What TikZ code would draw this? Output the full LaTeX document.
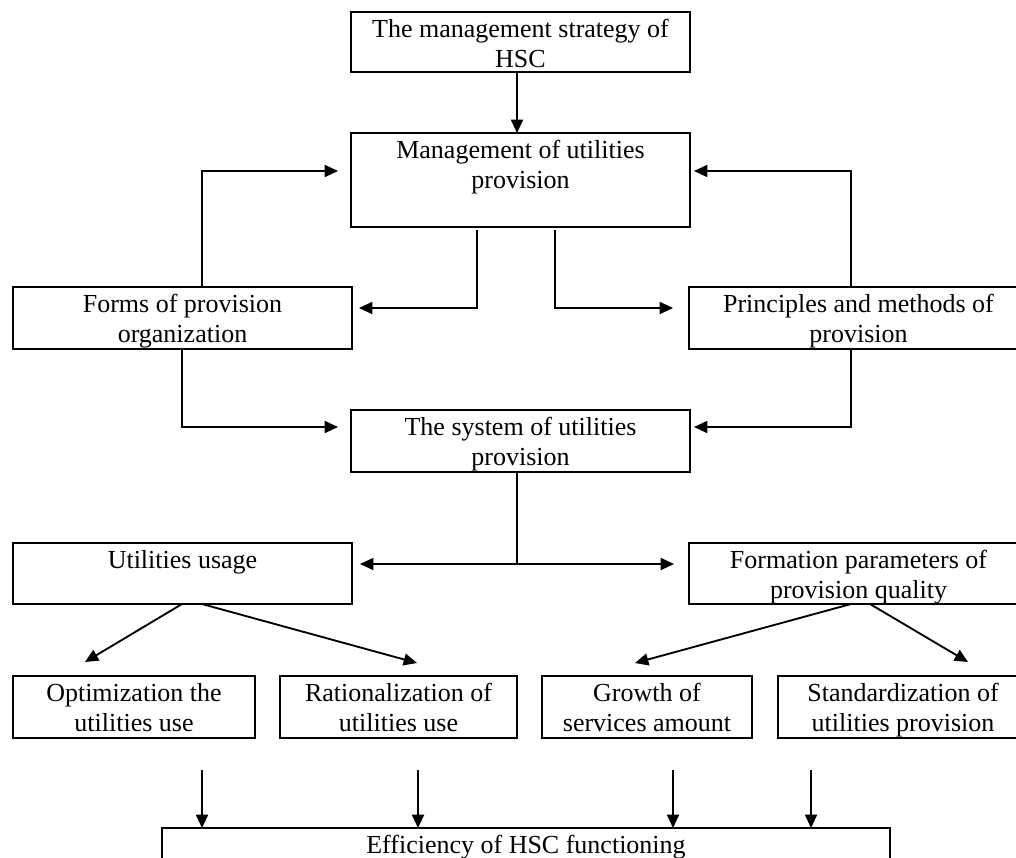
\documentclass[tikz,border=0pt]{standalone}
\usepackage{fontspec}
\setmainfont{Liberation Serif}
\usetikzlibrary{arrows.meta}
\newlength\pxu
\setlength\pxu{0.75pt}
\newcommand\bxt[3]{\parbox[c][#2\pxu][t]{#1\pxu}{\centering\rule{0pt}{19pt}#3\par}}
\begin{document}
\begin{tikzpicture}[x=0.75pt,y=-0.75pt,
  box/.style={draw, rectangle, inner sep=0pt, outer sep=0pt, line width=0.9pt,
    font=\fontsize{19.5pt}{22.5pt}\selectfont},
  arr/.style={line width=1.4pt, -{Triangle[length=10pt,width=9pt]}}]
\path[use as bounding box, clip] (0,0) rectangle (1016,857);
\fill[white] (0,0) rectangle (1016,857);

\node[box] (top) at (520.5,42) {\bxt{339}{60}{The management strategy of\\HSC}};
\node[box] (mgmt) at (520.5,180) {\bxt{339}{94}{Management of utilities\\provision}};
\node[box] (forms) at (182.5,318) {\bxt{339}{62}{Forms of provision\\organization}};
\node[box] (princ) at (858.5,318) {\bxt{339}{62}{Principles and methods of\\provision}};
\node[box] (system) at (520.5,441) {\bxt{339}{62}{The system of utilities\\provision}};
\node[box] (usage) at (182.5,573.5) {\bxt{339}{61}{Utilities usage}};
\node[box] (formation) at (858.5,573.5) {\bxt{339}{61}{Formation parameters of\\provision quality}};
\node[box] (opt) at (134,707) {\bxt{242}{62}{Optimization the\\utilities use}};
\node[box] (rat) at (398.5,707) {\bxt{237}{62}{Rationalization of\\utilities use}};
\node[box] (growth) at (647,707) {\bxt{210}{62}{Growth of\\services amount}};
\node[box] (std) at (903,707) {\bxt{250}{62}{Standardization of\\utilities provision}};
\node[box] (eff) at (526,859) {\bxt{728}{62}{Efficiency of HSC functioning}};

% top -> management
\draw[arr] ([xshift=-3.5\pxu]top.south) -- ([xshift=-3.5\pxu]mgmt.north);
% feedback loops up
\draw[arr] ([xshift=19.5\pxu]forms.north) |- ([shift={(-13,-9)}]mgmt.west);
\draw[arr] ([xshift=-7.5\pxu]princ.north) |- ([shift={(4,-9)}]mgmt.east);
% management down to forms / principles
\draw[arr] ([shift={(-43.5,3)}]mgmt.south) |- ([shift={(7,-10)}]forms.east);
\draw[arr] ([shift={(34.5,3)}]mgmt.south) |- ([shift={(-16,-10)}]princ.west);
% forms / principles -> system
\draw[arr] ([xshift=-0.5\pxu]forms.south) |- ([shift={(-13,-14)}]system.west);
\draw[arr] ([xshift=-7.5\pxu]princ.south) |- ([shift={(4,-14)}]system.east);
% system -> usage / formation
\draw[arr] ([xshift=-3.5\pxu]system.south) |- ([shift={(8,-9.5)}]usage.east);
\draw[arr] ([xshift=-3.5\pxu]system.south) |- ([shift={(-15,-9.5)}]formation.west);
% diagonals
\draw[arr] ([xshift=-0.5\pxu]usage.south) -- ([shift={(-49,-14)}]opt.north);
\draw[arr] ([xshift=19.5\pxu]usage.south) -- ([shift={(18.5,-13)}]rat.north);
\draw[arr] ([xshift=-7.5\pxu]formation.south) -- ([shift={(-12,-13)}]growth.north);
\draw[arr] ([xshift=11.5\pxu]formation.south) -- ([shift={(65,-14)}]std.north);
% down to efficiency
\coordinate (d1) at ([shift={(68,32)}]opt.south);
\coordinate (d2) at ([shift={(19.5,32)}]rat.south);
\coordinate (d3) at ([shift={(26,32)}]growth.south);
\coordinate (d4) at ([shift={(-92,32)}]std.south);
\draw[arr] (d1) -- (d1 |- eff.north);
\draw[arr] (d2) -- (d2 |- eff.north);
\draw[arr] (d3) -- (d3 |- eff.north);
\draw[arr] (d4) -- (d4 |- eff.north);
\end{tikzpicture}
\end{document}
